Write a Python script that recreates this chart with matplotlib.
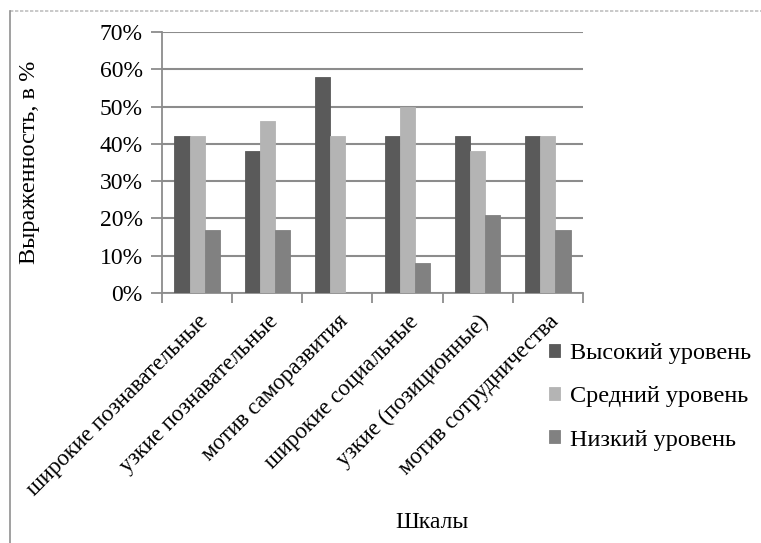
import matplotlib
matplotlib.use("Agg")
import matplotlib.pyplot as plt
import numpy as np
from matplotlib.lines import Line2D
from matplotlib.ticker import FuncFormatter, FixedLocator

categories = ["широкие познавательные", "узкие познавательные", "мотив саморазвития",
              "широкие социальные", "узкие (позиционные)", "мотив сотрудничества"]
series_names = ["Высокий уровень", "Средний уровень", "Низкий уровень"]
high = [42, 38, 58, 42, 42, 42]
mid = [42, 46, 42, 50, 38, 42]
low = [17, 17, 0, 8, 21, 17]
colors = ["#5a5a5a", "#b4b4b4", "#818181"]
y_ticks = [0, 10, 20, 30, 40, 50, 60, 70]

plt.rcParams['font.family'] = ['Liberation Serif', 'DejaVu Serif']

fig = plt.figure(figsize=(7.61, 5.43), dpi=100)
ax = fig.add_axes([162/761, 1-293/543, (583-162)/761, (293-32)/543])

x = np.arange(len(categories))
w = 0.215
for i, (vals, c, name) in enumerate(zip([high, mid, low], colors, series_names)):
    ax.bar(x + (i-1)*w, vals, width=w, color=c, edgecolor=c, linewidth=0.6,
           label=name, zorder=3)

ax.set_xlim(-0.5, len(categories)-0.5)
ax.set_ylim(0, 70)
ax.yaxis.set_major_locator(FixedLocator(y_ticks))
ax.yaxis.set_major_formatter(FuncFormatter(lambda v, p: f"{int(v)}%"))
ax.grid(axis='y', color='#8c8c8c', linewidth=1.5, zorder=0)
ax.set_axisbelow(True)

for s in ['top', 'right']:
    ax.spines[s].set_visible(False)
for s in ['left', 'bottom']:
    ax.spines[s].set_color('#8c8c8c')
    ax.spines[s].set_linewidth(1.3)

ax.xaxis.set_major_locator(FixedLocator(np.arange(-0.5, len(categories), 1.0)))
ax.set_xticklabels([])
ax.xaxis.set_minor_locator(FixedLocator(x))
ax.set_xticklabels(categories, minor=True, rotation=45, ha='right',
                   rotation_mode='anchor', fontsize=16.5)
ax.tick_params(axis='x', which='major', length=7, color='#8c8c8c', width=1.3)
ax.tick_params(axis='x', which='minor', length=0, pad=13)
ax.tick_params(axis='y', length=8, color='#8c8c8c', width=1.3, labelsize=17, pad=6)

ax.set_ylabel("Выраженность, в %", fontsize=17.5)
ax.yaxis.set_label_coords((40-162)/421, 0.5)
fig.text(432/761, 1-522/543, "Шкалы", ha='center', va='center', fontsize=17)

leg = fig.legend(loc='upper left', bbox_to_anchor=(527/761, 1-321/543), frameon=False,
                 fontsize=17.5, handlelength=0.45, handleheight=0.45, handletextpad=0.4,
                 labelspacing=0.92)

# figure border
fig.add_artist(Line2D([10/761, 1], [1-11/543, 1-11/543], color='#c0c0c0', linewidth=1.2,
                      linestyle=(0, (2, 1)), transform=fig.transFigure))
fig.add_artist(Line2D([10/761, 10/761], [0, 1-11/543], color='#909090', linewidth=1.2,
                      transform=fig.transFigure))

fig.savefig("out.png", dpi=100)
